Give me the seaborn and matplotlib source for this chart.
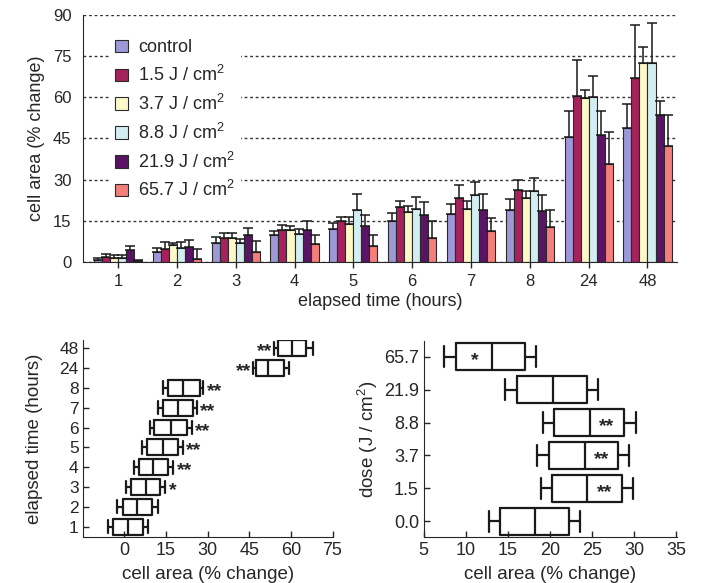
import numpy as np
import pandas as pd
import matplotlib
matplotlib.use('Agg')
import matplotlib.pyplot as plt
import seaborn as sns

# %% data
times = ['1', '2', '3', '4', '5', '6', '7', '8', '24', '48']
doses = ['control', '1.5 J / cm$^2$', '3.7 J / cm$^2$', '8.8 J / cm$^2$',
         '21.9 J / cm$^2$', '65.7 J / cm$^2$']
dose_colors = ['#9d98d6', '#a5225c', '#fcf8c8', '#d3eef3', '#5a1464', '#f47e79']

# mean % change per dose, one value per time point
mean_control = [0.5, 3.6, 6.9, 9.7, 12.1, 14.8, 17.4, 18.9, 45.4, 48.8]
mean_d15 = [1.8, 4.5, 8.5, 11.5, 15.0, 19.9, 23.3, 26.3, 60.4, 66.9]
mean_d37 = [1.2, 6.3, 8.5, 11.5, 13.8, 18.2, 19.4, 23.1, 59.6, 72.4]
mean_d88 = [1.5, 5.0, 6.9, 10.3, 19.0, 19.4, 24.3, 26.0, 60.0, 72.4]
mean_d219 = [4.4, 5.4, 9.7, 11.7, 13.2, 17.0, 18.9, 18.4, 46.2, 53.7]
mean_d657 = [0.3, 0.9, 3.6, 6.6, 5.7, 8.7, 11.1, 12.7, 35.7, 42.2]

# top of each error bar
top_control = [1.4, 5.0, 9.0, 11.4, 14.2, 17.8, 21.1, 23.0, 55.2, 57.4]
top_d15 = [3.0, 7.2, 10.5, 13.6, 16.2, 22.3, 27.9, 30.0, 73.8, 86.3]
top_d37 = [2.5, 7.0, 10.5, 13.0, 16.2, 20.3, 22.1, 26.0, 62.8, 78.3]
top_d88 = [2.5, 7.3, 8.4, 12.1, 24.7, 23.5, 29.1, 30.6, 67.8, 87.2]
top_d219 = [5.7, 8.0, 12.3, 14.9, 17.2, 21.7, 24.7, 24.3, 54.9, 58.8]
top_d657 = [0.8, 4.8, 7.7, 9.9, 9.9, 14.8, 16.0, 19.0, 47.4, 53.4]

means = [mean_control, mean_d15, mean_d37, mean_d88, mean_d219, mean_d657]
tops = [top_control, top_d15, top_d37, top_d88, top_d219, top_d657]

# box summaries: whisker low, q1, median, q3, whisker high
box_times = ['48', '24', '8', '7', '6', '5', '4', '3', '2', '1']
box_time_stats = [
    [54.0, 55.5, 60.3, 65.5, 67.9],
    [46.5, 47.6, 51.9, 57.6, 59.5],
    [14.1, 15.9, 21.1, 27.1, 28.5],
    [12.3, 13.9, 19.5, 24.7, 26.1],
    [9.4, 10.8, 16.8, 22.6, 24.3],
    [6.4, 8.2, 13.8, 19.2, 21.0],
    [3.4, 5.4, 10.5, 15.9, 17.7],
    [0.6, 2.5, 7.8, 12.9, 14.7],
    [-2.6, -0.6, 4.6, 10.0, 12.0],
    [-6.0, -4.2, 1.3, 6.7, 8.7],
]
time_marks = ['**', '**', '**', '**', '**', '**', '**', '*', '', '']

box_doses = ['65.7', '21.9', '8.8', '3.7', '1.5', '0.0']
box_dose_stats = [
    [7.4, 8.8, 13.1, 17.0, 18.3],
    [14.7, 16.1, 20.3, 24.4, 25.7],
    [19.1, 20.5, 24.7, 28.8, 30.2],
    [18.4, 19.9, 24.1, 28.1, 29.4],
    [18.9, 20.2, 24.4, 28.5, 29.8],
    [12.8, 14.1, 18.2, 22.3, 23.6],
]
dose_marks = ['*', '', '**', '**', '**', '']

# %%
sns.set_style('ticks')
plt.rcParams['font.family'] = ['Liberation Sans', 'DejaVu Sans']
plt.rcParams['mathtext.fontset'] = 'custom'
plt.rcParams['mathtext.rm'] = 'Liberation Sans'
plt.rcParams['font.size'] = 12
plt.rcParams['axes.labelsize'] = 13
plt.rcParams['xtick.labelsize'] = 12
plt.rcParams['ytick.labelsize'] = 12

fig = plt.figure(figsize=(7.04, 5.83), dpi=100)

# %% top: grouped bars
df_bars = pd.DataFrame({
    'time': np.tile(times, len(doses)),
    'dose': np.repeat(doses, len(times)),
    'area': np.concatenate(means),
})

ax = fig.add_axes([0.1175, 0.551, 0.844, 0.423])
sns.barplot(data=df_bars, x='time', y='area', hue='dose', order=times,
            hue_order=doses, palette=dose_colors, saturation=1, width=0.82,
            edgecolor='#2a2a2a', linewidth=0.8, errorbar=None, ax=ax)

for cont, m, t in zip(ax.containers, means, tops):
    xs = [b.get_x() + b.get_width() / 2 for b in cont]
    up = np.array(t) - np.array(m)
    ax.errorbar(xs, m, yerr=[np.zeros(len(up)), up], fmt='none',
                ecolor='#1a1a1a', elinewidth=1.1, capsize=3.5, capthick=1.1)

ax.set_ylim(0, 90)
ax.set_xlim(-0.6, 9.5)
ax.set_yticks(range(0, 91, 15))
ax.set_axisbelow(True)
ax.yaxis.grid(True, linestyle=(0, (2, 2)), color='#333333', linewidth=1)
ax.tick_params(axis='y', length=0, pad=8)
ax.tick_params(axis='x', length=4, width=1, pad=5)
ax.set_xlabel('elapsed time (hours)', labelpad=3)
ax.set_ylabel('cell area (% change)', labelpad=6)
sns.despine(ax=ax)

h, l = ax.get_legend_handles_labels()
ax.legend(h, l, loc='upper left', bbox_to_anchor=(0.03, 0.96), frameon=True,
          facecolor='white', edgecolor='none', framealpha=1, fancybox=False,
          handlelength=0.7, handleheight=0.7, handletextpad=0.6,
          labelspacing=0.48, borderpad=0.3, fontsize=13)

# %% bottom left: boxes by elapsed time
df_time = pd.DataFrame({
    'time': np.repeat(box_times, 5),
    'area': np.concatenate(box_time_stats),
})
ax2 = fig.add_axes([0.1175, 0.079, 0.356, 0.338])
sns.boxplot(data=df_time, x='area', y='time', order=box_times, orient='h',
            whis=(0, 100), width=0.8, fill=False, color='#1a1a1a',
            linewidth=1.6, capwidths=0.65, ax=ax2)
for i, (s, mk) in enumerate(zip(box_time_stats, time_marks)):
    if not mk:
        continue
    if i < 2:
        ax2.text(s[0] - 0.8, i + 0.18, mk, ha='right', va='center',
                 fontsize=14, fontweight='bold')
    else:
        ax2.text(s[4] + 1.2, i + 0.18, mk, ha='left', va='center',
                 fontsize=14, fontweight='bold')
ax2.set_xlim(-15, 75.3)
ax2.set_ylim(9.52, -0.42)
ax2.set_xticks(range(0, 76, 15))
ax2.tick_params(direction='in', length=4, width=1)
ax2.tick_params(axis='y', labelsize=12.5, pad=3)
ax2.tick_params(axis='x', labelsize=13)
ax2.set_xlabel('cell area (% change)', labelpad=5, fontsize=13.5)
ax2.set_ylabel('elapsed time (hours)', labelpad=12, fontsize=13.5)
sns.despine(ax=ax2)

# %% bottom right: boxes by dose
df_dose = pd.DataFrame({
    'dose': np.repeat(box_doses, 5),
    'area': np.concatenate(box_dose_stats),
})
ax3 = fig.add_axes([0.602, 0.079, 0.360, 0.336])
sns.boxplot(data=df_dose, x='area', y='dose', order=box_doses, orient='h',
            whis=(0, 100), width=0.82, fill=False, color='#1a1a1a',
            linewidth=1.6, capwidths=0.65, ax=ax3)
for i, (s, mk) in enumerate(zip(box_dose_stats, dose_marks)):
    if not mk:
        continue
    if i == 0:
        xpos = 11.0
    else:
        xpos = (s[2] + s[3]) / 2
    ax3.text(xpos, i + 0.12, mk, ha='center', va='center', fontsize=14,
             fontweight='bold')
ax3.set_xlim(5, 35.1)
ax3.set_ylim(5.47, -0.47)
ax3.set_xticks(range(5, 36, 5))
ax3.tick_params(direction='in', length=4, width=1, labelsize=13)
ax3.set_xlabel('cell area (% change)', labelpad=5, fontsize=13.5)
ax3.set_ylabel('dose (J / cm$^2$)', labelpad=3, fontsize=13.5)
sns.despine(ax=ax3)

fig.savefig('out.png', dpi=100)
